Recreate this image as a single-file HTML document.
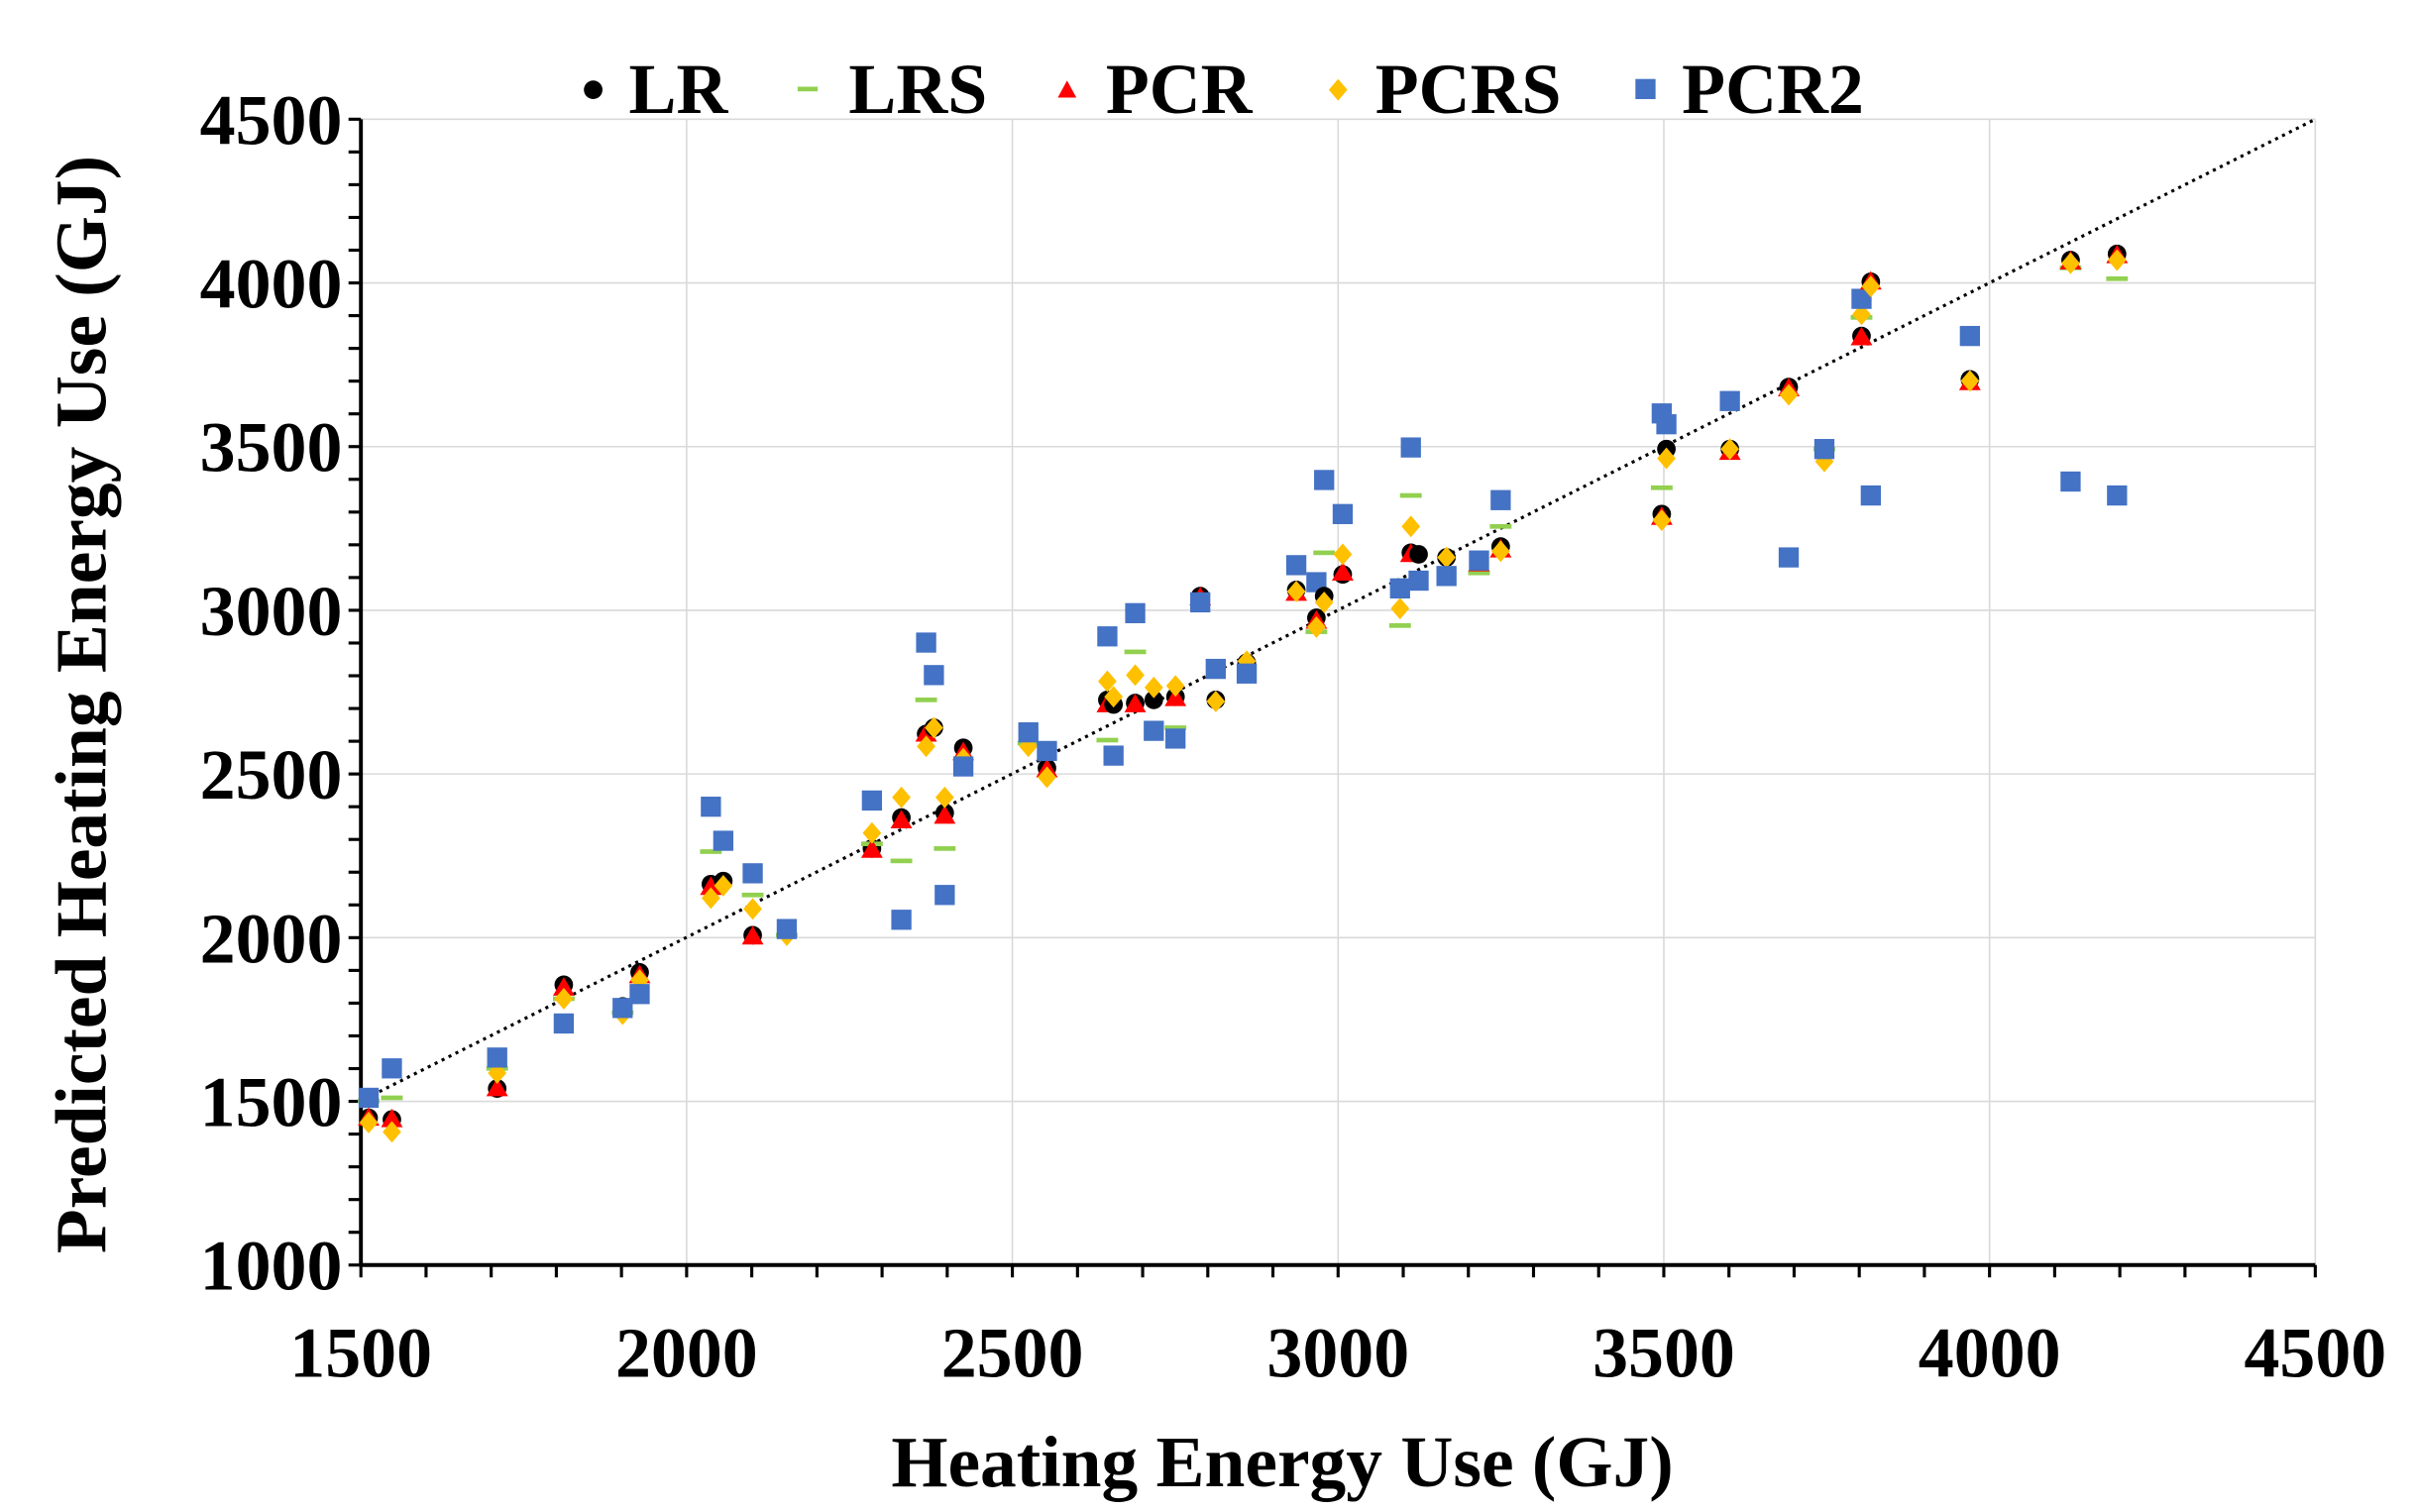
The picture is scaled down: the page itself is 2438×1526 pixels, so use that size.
<!DOCTYPE html>
<html><head><meta charset="utf-8"><style>
html,body{margin:0;padding:0;background:#fff}
svg{display:block}
text{font-family:"Liberation Serif",serif;font-weight:bold;fill:#000}
</style></head><body>
<svg id="s" width="2438" height="1526" viewBox="0 0 1560 976.5" xmlns="http://www.w3.org/2000/svg">
<rect width="1560" height="976.5" fill="#fff"/>
<g id="grid" stroke="#d9d9d9" stroke-width="1"></g>
<g id="axes"></g>
<line x1="236" y1="709.5" x2="1495" y2="77" stroke="#000" stroke-width="2" stroke-dasharray="2,3"/>
<g id="pts"></g>
<g id="lbl" font-size="46"></g>
<text x="828" y="960" font-size="47" text-anchor="middle">Heating Energy Use (GJ)</text>
<text transform="translate(68,455) rotate(-90)" font-size="47" text-anchor="middle">Predicted Heating Energy Use (GJ)</text>
<g font-size="46">
<circle cx="383" cy="58" r="6" fill="#000"/><text x="406" y="73">LR</text>
<rect x="515" y="56" width="13" height="3" fill="#92d050"/><text x="548" y="73">LRS</text>
<polygon points="689,52 695,63 683,63" fill="#f00"/><text x="714" y="73">PCR</text>
<polygon points="864,51 870,58 864,65 858,58" fill="#ffc000"/><text x="888" y="73">PCRS</text>
<rect x="1056" y="51" width="13" height="13" fill="#4472c4"/><text x="1086" y="73">PCR2</text>
</g>
</svg>
<script>
const NS="http://www.w3.org/2000/svg";
function el(p,t,a){const e=document.createElementNS(NS,t);for(const k in a)e.setAttribute(k,a[k]);p.appendChild(e);return e;}
const X=v=>233+(v-1500)*1262/3000, Y=v=>817-(v-1000)*740/3500;
const g=document.getElementById('grid'),ax=document.getElementById('axes'),lb=document.getElementById('lbl');
for(let v=2000;v<=4500;v+=500){el(g,'line',{x1:X(v),y1:77,x2:X(v),y2:817});}
for(let v=1500;v<=4500;v+=500){el(g,'line',{x1:233,y1:Y(v),x2:1495,y2:Y(v)});}
el(ax,'line',{x1:233,y1:77,x2:233,y2:818,stroke:'#000','stroke-width':2.5});
el(ax,'line',{x1:232,y1:817,x2:1495,y2:817,stroke:'#000','stroke-width':2.5});
for(let v=1500;v<=4500;v+=100){el(ax,'line',{x1:X(v),y1:817,x2:X(v),y2:825,stroke:'#000','stroke-width':2});}
for(let v=1000;v<=4500;v+=100){el(ax,'line',{x1:225,y1:Y(v),x2:233,y2:Y(v),stroke:'#000','stroke-width':2});}
for(let v=1500;v<=4500;v+=500){const t=el(lb,'text',{x:X(v),y:889,'text-anchor':'middle'});t.textContent=v;}
for(let v=1000;v<=4500;v+=500){const t=el(lb,'text',{x:221,y:Y(v)+16,'text-anchor':'end'});t.textContent=v;}
const D=[
[238,722,711,722,725,709],[253,723,709,723,731,690],[321,703,690,703,693,683],[364,636,645,638,645,661],
[402,650,654,0,655,651],[413,628,0,630,633,642],[459,571,550,573,580,521],[467,569,0,0,572,543],
[486,604,578,605,587,564],[508,0,604,0,604,600],[563,548,545,549,538,517],[582,528,556,530,515,594],
[598,474,452,474,482,415],[603,470,0,0,470,436],[610,525,548,527,515,578],[622,483,0,486,490,495],
[664,0,480,0,482,473],[676,496,0,497,502,485],[715,452,478,455,440,411],[719,455,0,0,450,488],
[733,454,421,455,436,396],[745,452,0,0,444,472],[759,450,470,451,443,477],[775,385,0,386,0,389],
[785,452,0,0,453,432],[805,428,0,0,427,435],[837,381,0,383,382,365],[850,399,408,401,405,376],
[855,385,357,0,389,310],[867,371,0,370,358,332],[904,0,404,0,393,380],[911,357,320,358,340,289],
[916,358,0,0,0,375],[934,360,0,0,360,372],[955,363,370,364,0,362],[969,353,340,355,356,323],
[1073,332,315,334,336,267],[1076,290,0,0,296,274],[1117,290,0,292,290,259],[1155,250,0,251,255,360],
[1178,0,290,0,298,290],[1202,217,205,218,203,193],[1208,182,0,182,185,320],[1272,245,0,247,246,217],
[1337,168,173,169,170,311],[1367,164,180,165,168,320]];
const P=document.getElementById('pts');
D.forEach(d=>{const x=d[0];
 if(d[1])el(P,'circle',{cx:x,cy:d[1],r:6,fill:'#000'});
 if(d[2])el(P,'rect',{x:x-7,y:d[2]-1.5,width:14,height:3,fill:'#92d050'});
 if(d[3])el(P,'polygon',{points:`${x},${d[3]-7} ${x+7},${d[3]+5} ${x-7},${d[3]+5}`,fill:'#f00'});
 if(d[4])el(P,'polygon',{points:`${x},${d[4]-7} ${x+6},${d[4]} ${x},${d[4]+7} ${x-6},${d[4]}`,fill:'#ffc000'});
 if(d[5])el(P,'rect',{x:x-6.5,y:d[5]-6.5,width:13,height:13,fill:'#4472c4'});
});
</script>
</body></html>
